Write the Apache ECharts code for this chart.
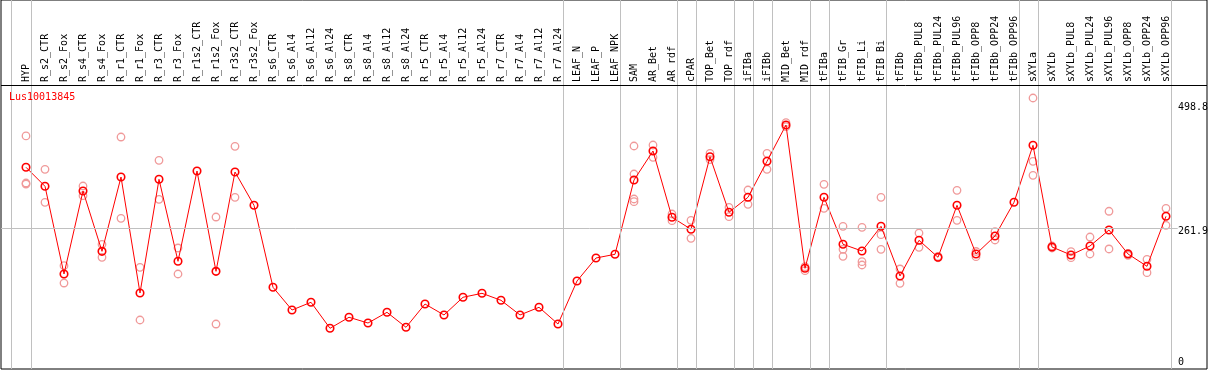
<!DOCTYPE html>
<html>
<head>
<meta charset="utf-8">
<script src="https://cdn.jsdelivr.net/npm/echarts@6/dist/echarts.min.js"></script>
<style>
html,body{margin:0;padding:0;background:#fff;}
#chart{width:1209px;height:370px;}
</style>
</head>
<body>
<div id="chart"></div>
<script>
// ---------------- data ----------------
const geneName = 'Lus10013845';
const categories = ['HYP','R_s2_CTR','R_s2_Fox','R_s4_CTR','R_s4_Fox','R_r1_CTR','R_r1_Fox','R_r3_CTR','R_r3_Fox',
  'R_r1s2_CTR','R_r1s2_Fox','R_r3s2_CTR','R_r3s2_Fox','R_s6_CTR','R_s6_Al4','R_s6_Al12','R_s6_Al24',
  'R_s8_CTR','R_s8_Al4','R_s8_Al12','R_s8_Al24','R_r5_CTR','R_r5_Al4','R_r5_Al12','R_r5_Al24',
  'R_r7_CTR','R_r7_Al4','R_r7_Al12','R_r7_Al24','LEAF_N','LEAF_P','LEAF_NPK','SAM','AR_Bet','AR_rdf',
  'cPAR','TOP_Bet','TOP_rdf','iFIBa','iFIBb','MID_Bet','MID_rdf','tFIBa','tFIB_Gr','tFIB_Li','tFIB_Bi',
  'tFIBb','tFIBb_PUL8','tFIBb_PUL24','tFIBb_PUL96','tFIBb_OPP8','tFIBb_OPP24','tFIBb_OPP96',
  'sXYLa','sXYLb','sXYLb_PUL8','sXYLb_PUL24','sXYLb_PUL96','sXYLb_OPP8','sXYLb_OPP24','sXYLb_OPP96'];
const meanValues = [378.2,341.8,173.9,332.8,217.3,359.6,137.5,355.2,198.2,371.1,179.0,369.2,305.4,148.4,104.9,119.7,
  69.9,91.0,80.0,100.5,71.8,116.4,95.4,129.3,136.9,123.5,95.4,110.1,78.1,160.5,204.5,211.6,353.9,409.4,282.5,
  259.5,398.5,292.0,320.8,389.7,459.2,184.8,320.8,230.8,217.9,265.2,170.1,238.4,205.9,305.4,212.2,246.6,311.2,
  420.3,225.6,210.3,227.5,258.1,212.2,188.6,284.4];
const replicates = [
  [438.2,348.1,346.2],[374.4,311.2],[189.8,156.6],[342.4,323.8],[230.8,205.9],[436.2,280.5],[186.7,85.8],
  [391.6,316.9],[223.7,173.9],[],[283.0,78.1],[418.4,320.8],[],[],[],[],
  [],[],[],[],[],[],[],[],[],
  [],[],[],[],[],[],[],[419.0,365.4,317.5,312.3],[420.9,397.4],[288.8,276.0],
  [276.7,242.2],[405.0,393.0],[301.6,283.6],[334.7,307.4],[405.0,374.4],[463.6,456.0],[187.9,180.2],
  [345.7,299.7],[265.2,221.2,207.8],[263.3,197.4,191.1],[320.8,249.1,221.2],
  [183.5,156.1],[252.4,225.0],[205.0,207.5],[334.2,276.7],[207.0,217.0],[254.9,239.0],[],
  [510.9,389.7,362.9],[227.5,223.7],[216.6,205.1],[244.7,212.2],[294.0,221.8],[213.5,209.7],[202.0,176.4],[299.7,267.1]
];
const groupEnds = [0,28,31,34,35,37,38,39,41,42,45,52,53,60]; // separator after these categories
const yTickLabels = [0, 261.9, 498.8];
const gridLineValue = 261.9;

// ---------------- layout ----------------
const FONT = 'DejaVu Sans Mono';
const n = categories.length;
const step = 19, firstX = 26, plotL = 1, plotR = 1207, plotB = 369, headerY = 85;
const xMin = -(firstX - plotL) / step;
const xMax = (plotR - firstX) / step;
const pxPerUnit = 0.5222, zeroY = 364.8;
const yMin = -(plotB - zeroY) / pxPerUnit;
const yMax = zeroY / pxPerUnit;

const meanData = meanValues.map((v, i) => [i, v]);
const repData = [];
replicates.forEach((arr, i) => arr.forEach(v => repData.push([i, v])));

const vLines = [{xAxis: -0.8}].concat(groupEnds.map(k => ({xAxis: k + 0.247})));

const chart = echarts.init(document.getElementById('chart'), null, {renderer: 'canvas'});
chart.setOption({
  animation: false,
  backgroundColor: '#fff',
  title: {
    text: geneName, left: 9, top: 92, padding: 0,
    textStyle: {color: '#ff0000', fontSize: 10, fontFamily: FONT, fontWeight: 'normal'}
  },
  grid: [
    {left: plotL, top: 0, width: plotR - plotL, height: plotB, show: true, borderColor: '#000', borderWidth: 1, backgroundColor: 'transparent'},
    {left: firstX - step / 2, top: headerY, width: step * n, height: plotB - headerY}
  ],
  xAxis: [
    {type: 'value', gridIndex: 0, min: xMin, max: xMax, show: false},
    {type: 'category', gridIndex: 1, position: 'top', data: categories, boundaryGap: true,
     axisLine: {show: false}, axisTick: {show: false}, splitLine: {show: false},
     axisLabel: {interval: 0, rotate: 90, margin: 3, fontSize: 10, fontFamily: FONT, color: '#000'}}
  ],
  yAxis: [
    {type: 'value', gridIndex: 0, min: yMin, max: yMax, show: false},
    {type: 'value', gridIndex: 1, show: false}
  ],
  series: [
    {
      type: 'line', xAxisIndex: 0, yAxisIndex: 0, data: [], silent: true, z: 1,
      markLine: {
        silent: true, symbol: ['none', 'none'], label: {show: false}, animation: false,
        lineStyle: {color: '#c0c0c0', width: 1, type: 'solid'},
        data: vLines.concat([[{coord: [xMin, gridLineValue]}, {coord: [(1177.7 - firstX) / step, gridLineValue]}]])
      }
    },
    {
      type: 'scatter', xAxisIndex: 0, yAxisIndex: 0, data: repData, z: 3,
      symbol: 'circle', symbolSize: 7.5,
      itemStyle: {color: 'rgba(0,0,0,0)', borderColor: '#f09a9a', borderWidth: 1.3, opacity: 1}
    },
    {
      type: 'line', xAxisIndex: 0, yAxisIndex: 0, data: meanData, z: 4,
      symbol: 'circle', symbolSize: 7.5, showAllSymbol: true,
      lineStyle: {color: '#ff0000', width: 1},
      itemStyle: {color: 'rgba(0,0,0,0)', borderColor: '#ff0000', borderWidth: 1.6}
    }
  ]
});

const graphics = [
  {type: 'line', shape: {x1: plotL, y1: headerY + 0.5, x2: plotR, y2: headerY + 0.5}, style: {stroke: '#000', lineWidth: 1}, z: 10}
];
yTickLabels.forEach(v => {
  const y = chart.convertToPixel({yAxisIndex: 0}, v);
  const atBottom = y + 10 > plotB;
  graphics.push({
    type: 'text', x: 1178, y: atBottom ? y + 3 : y - 2, z: 10,
    style: {text: String(v), fill: '#000', font: '10px "' + FONT + '"',
            verticalAlign: atBottom ? 'bottom' : 'top', align: 'left'}
  });
});
chart.setOption({graphic: graphics});
</script>
</body>
</html>
